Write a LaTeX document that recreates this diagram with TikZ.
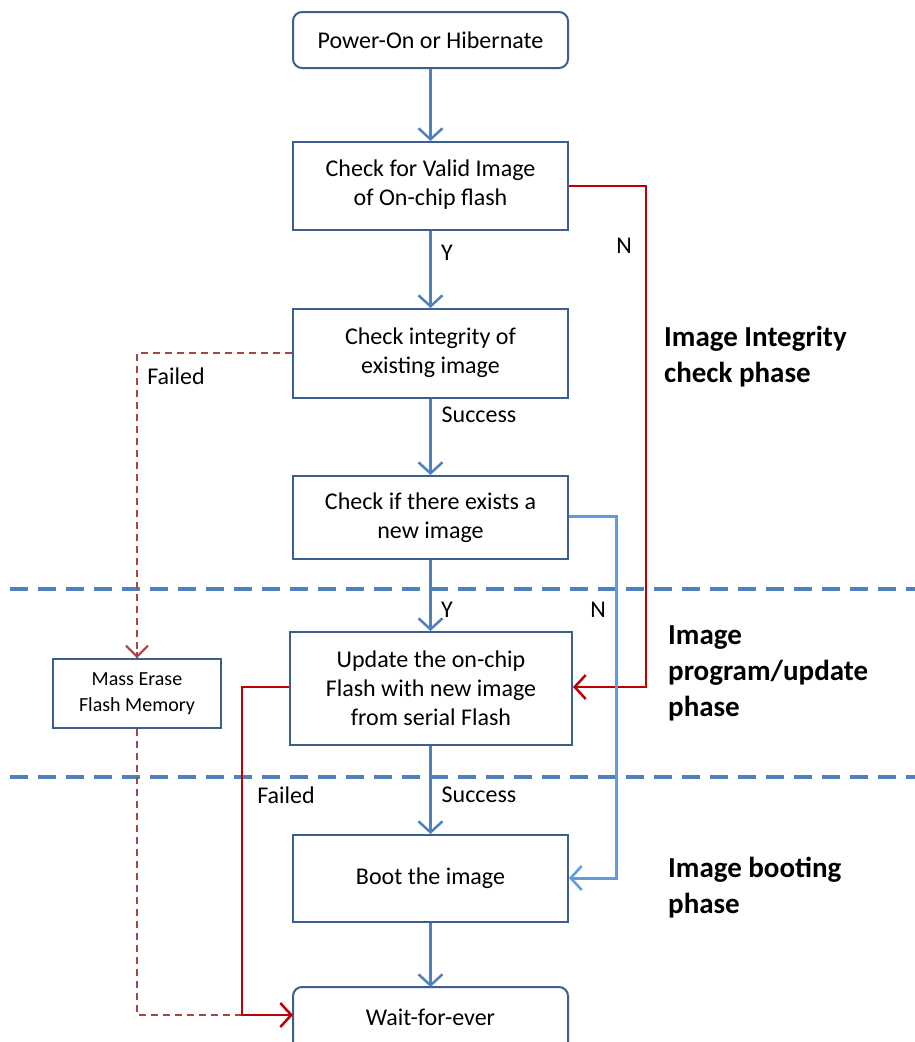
\documentclass[tikz,border=0pt]{standalone}
\usepackage{fontspec}
\setmainfont{Carlito}
\usetikzlibrary{arrows.meta}
\definecolor{boxb}{HTML}{3B5F8F}
\definecolor{arrb}{HTML}{4F81BD}
\definecolor{lightb}{HTML}{5E9BDF}
\definecolor{redl}{HTML}{C00000}
\definecolor{dred}{HTML}{A94442}
\begin{document}
\begin{tikzpicture}[x=1pt,y=-1pt,
 box/.style={draw=boxb,line width=2pt,fill=white,minimum width=275pt,align=center,font=\fontsize{24}{29}\selectfont,inner sep=0pt},
 rbox/.style={box,rounded corners=9pt},
 tip/.style={-{Straight Barb[length=11pt,width=24pt,line width=2.5pt]}},
 flow/.style={draw=arrb,line width=3pt,tip},
 nflow/.style={draw=lightb,line width=3pt,tip},
 rflow/.style={draw=redl,line width=2pt,tip},
 dflow/.style={draw=dred,line width=2pt,dash pattern=on 7pt off 5pt},
 lbl/.style={font=\fontsize{24}{28}\selectfont,inner sep=0pt},
 phase/.style={font=\bfseries\fontsize{29}{36}\selectfont,align=left,anchor=west,inner sep=0pt},
 sep/.style={draw=arrb,line width=4pt,dash pattern=on 18pt off 10pt}
]
\useasboundingbox (0,0) rectangle (915,1042);
\fill[white] (0,0) rectangle (915,1042);

% separators
\draw[sep] (10,589) -- (915,589);
\draw[sep] (10,777) -- (915,777);

% nodes
\node[rbox,minimum height=56pt] (pwr) at (430.5,40) {Power-On or Hibernate};
\node[box,minimum height=88pt,text depth=6pt] (valid) at (430.5,186) {Check for Valid Image\\of On-chip flash};
\node[box,minimum height=89pt,text depth=6pt] (integ) at (430.5,353.5) {Check integrity of\\existing image};
\node[box,minimum height=83pt] (newimg) at (430.5,517.5) {Check if there exists a\\new image};
\node[box,minimum width=282pt,minimum height=113pt] (upd) at (431,688.5) {Update the on-chip\\Flash with new image\\from serial Flash};
\node[box,minimum width=168pt,minimum height=69pt,font=\fontsize{20}{26}\selectfont] (erase) at (137,693.5) {Mass Erase\\Flash Memory};
\node[box,minimum height=87pt] (boot) at (430.5,878.5) {Boot the image};
\node[rbox,minimum height=64pt,text depth=0pt] (wait) at (430.5,1019) {};
\node[lbl] (waitl) at (430.5,1017) {Wait-for-ever};

% coordinates
\coordinate (rn1) at (646,186);
\coordinate (rn2) at (646,687);
\coordinate (bn1) at (616,516);
\coordinate (bn2) at (616,878);
\coordinate (df1) at (137,353);
\coordinate (df2) at (137,1015);
\coordinate (rf1) at (242,687);
\coordinate (rf2) at (242,1015);
\coordinate (wl) at (293,1015);

% main flow
\draw[flow] (pwr.south) -- (valid.north);
\draw[flow] (valid.south) -- (integ.north);
\draw[flow] (integ.south) -- (newimg.north);
\draw[flow] (newimg.south) -- (newimg.south |- upd.north);
\draw[flow] (upd.south -| boot.north) -- (boot.north);
\draw[flow] (boot.south) -- (430.5,987);

% N branches
\draw[rflow] (valid.east |- rn1) -- (rn1) -- (rn2) -- (upd.east |- rn2);
\draw[nflow] (newimg.east |- bn1) -- (bn1) -- (bn2) -- (boot.east |- bn2);

% failed branches
\draw[dflow] (integ.west |- df1) -- (df1) -- (erase.north);
\draw[draw=dred,line width=2pt,-{Straight Barb[length=11pt,width=22pt,line width=2pt]}] (137,652) -- (erase.north);
\draw[dflow] (erase.south) -- (df2) -- (wl);
\draw[rflow] (upd.west |- rf1) -- (rf1) -- (rf2) -- (wl);

% labels
\node[lbl] (y1) at (447,253) {Y};
\node[lbl] (n1) at (624,246) {N};
\node[lbl] (f1) at (176,376) {Failed};
\node[lbl] (s1) at (479,415) {Success};
\node[lbl] (y2) at (447,610) {Y};
\node[lbl] (n2) at (598,610) {N};
\node[lbl] (f2) at (286,795) {Failed};
\node[lbl] (s2) at (479,795) {Success};

\node[phase] (p1) at (664,357) {Image Integrity\\check phase};
\node[phase] (p2) at (668,673) {Image\\program/update\\phase};
\node[phase] (p3) at (668,888) {Image booting\\phase};
\end{tikzpicture}
\end{document}
